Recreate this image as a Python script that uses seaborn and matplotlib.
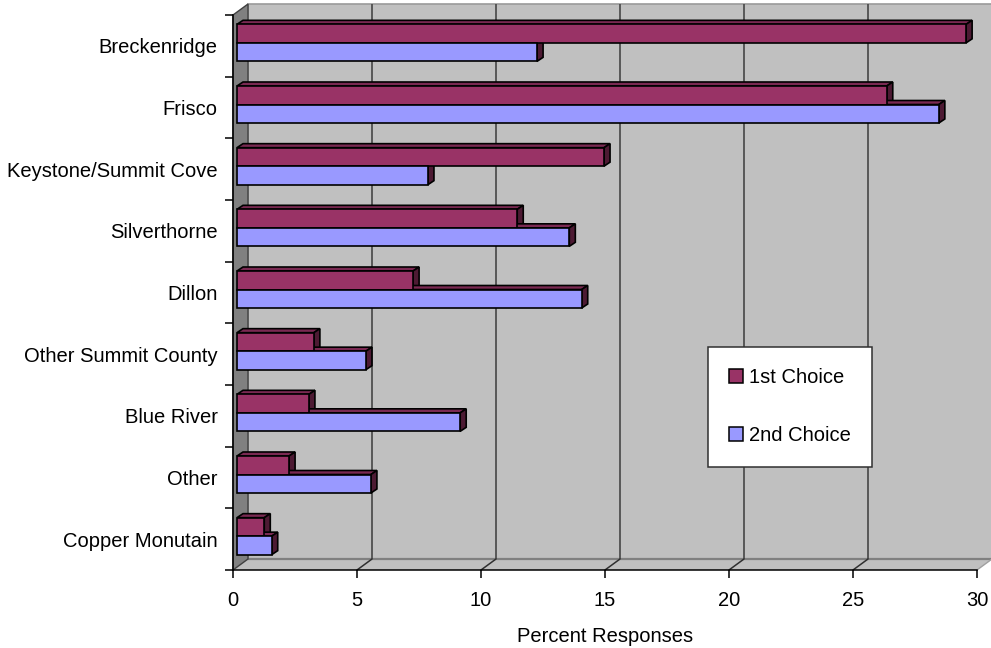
import matplotlib
matplotlib.use("Agg")
import matplotlib.pyplot as plt
import matplotlib.transforms as mtransforms
from matplotlib.patches import Polygon, Patch, Rectangle
from matplotlib.lines import Line2D
import pandas as pd
import seaborn as sns

# ---- data ----
locations = ["Breckenridge", "Frisco", "Keystone/Summit Cove", "Silverthorne", "Dillon",
             "Other Summit County", "Blue River", "Other", "Copper Monutain"]
first_choice = [29.4, 26.2, 14.8, 11.3, 7.1, 3.1, 2.9, 2.1, 1.1]
second_choice = [12.1, 28.3, 7.7, 13.4, 13.9, 5.2, 9.0, 5.4, 1.4]
series_names = ["1st Choice", "2nd Choice"]
x_ticks = [0, 5, 10, 15, 20, 25, 30]
x_label = "Percent Responses"

df = pd.DataFrame({
    "Location": locations * 2,
    "Choice": [series_names[0]] * len(locations) + [series_names[1]] * len(locations),
    "Percent": first_choice + second_choice,
})

sns.set_theme(style="white")
plt.rcParams["font.family"] = ["Liberation Sans", "DejaVu Sans"]
plt.rcParams["text.color"] = "black"

W, H, DPI = 991, 648, 100
FS = 14.5
fig = plt.figure(figsize=(W / DPI, H / DPI), dpi=DPI)
fig.patch.set_facecolor("white")

# front plane of the 3-D box, in pixels
left_px, right_px, bottom_px, top_px = 233, 977, 570, 15
ax = fig.add_axes([left_px / W, 1 - bottom_px / H,
                   (right_px - left_px) / W, (bottom_px - top_px) / H])
ax.set_facecolor("none")

front_cols = ["#993366", "#9999FF"]
top_cols = ["#7A2952", "#7B7BD6"]
side_cols = ["#4D1A33", "#4D4D80"]

sns.barplot(data=df, y="Location", x="Percent", hue="Choice",
            order=locations, hue_order=series_names, palette=front_cols,
            orient="h", width=0.6, saturation=1, edgecolor="black",
            linewidth=1.2, legend=False, ax=ax)
bars = list(ax.patches)

ax.set_xlim(x_ticks[0], x_ticks[-1])
ax.set_ylim(len(locations) - 0.5, -0.5)

# depth offsets (pixels): wall depth, bar position in depth, bar thickness
WALL_DX, WALL_DY = 15, 11
BAR_FX, BAR_FY = 4, 3
BAR_DX, BAR_DY = 6, 4

def shifted(dx, dy):
    return ax.transData + mtransforms.ScaledTranslation(dx / DPI, dy / DPI, fig.dpi_scale_trans)

ident = mtransforms.IdentityTransform()
to_disp = ax.transData.transform
back_tr = shifted(WALL_DX, WALL_DY)

y_lo, y_hi = len(locations) - 0.5, -0.5
x_lo, x_hi = x_ticks[0], x_ticks[-1]

# back wall
ax.add_patch(Rectangle((x_lo, y_hi), x_hi - x_lo, y_lo - y_hi, transform=back_tr,
                       facecolor="#C0C0C0", edgecolor="#9A9A9A", lw=1.2,
                       clip_on=False, zorder=0.2))
# floor
fl0, fl1 = to_disp((x_lo, y_lo)), to_disp((x_hi, y_lo))
floor = [fl0, fl1, fl1 + (WALL_DX, WALL_DY), fl0 + (WALL_DX, WALL_DY)]
ax.add_patch(Polygon(floor, closed=True, transform=ident, facecolor="#C0C0C0",
                     edgecolor="none", clip_on=False, zorder=0.3))
ax.add_line(Line2D([floor[3][0], floor[2][0]], [floor[3][1], floor[2][1]], transform=ident,
                   color="#808080", lw=1.6, clip_on=False, zorder=0.35))
ax.add_line(Line2D([floor[1][0], floor[2][0]], [floor[1][1], floor[2][1]], transform=ident,
                   color="#A0A0A0", lw=1.0, clip_on=False, zorder=0.35))
# left side wall
lw0, lw1 = to_disp((x_lo, y_lo)), to_disp((x_lo, y_hi))
lwall = [lw0, lw1, lw1 + (WALL_DX, WALL_DY), lw0 + (WALL_DX, WALL_DY)]
ax.add_patch(Polygon(lwall, closed=True, transform=ident, facecolor="#808080",
                     edgecolor="#404040", lw=1.0, clip_on=False, zorder=0.4))

# gridlines on the back wall and their traces across the floor
ax.vlines(x_ticks[1:], y_hi, y_lo, transform=back_tr, colors="#505050",
          lw=1.3, clip_on=False, zorder=0.5)
for xt in x_ticks[1:-1]:
    p0 = to_disp((xt, y_lo))
    ax.add_line(Line2D([p0[0], p0[0] + WALL_DX], [p0[1], p0[1] + WALL_DY], transform=ident,
                       color="#303030", lw=1.1, clip_on=False, zorder=0.5))

# give every bar a top and an end face
front_tr = shifted(BAR_FX, BAR_FY)
for p in bars:
    fc = p.get_facecolor()
    k = 0 if abs(fc[0] - 0.6) < 0.05 else 1
    x0, y0, w, h = p.get_x(), p.get_y(), p.get_width(), p.get_height()
    a, b = to_disp((x0, y0)), to_disp((x0 + w, y0 + h))
    left, right = min(a[0], b[0]) + BAR_FX, max(a[0], b[0]) + BAR_FX
    low, high = min(a[1], b[1]) + BAR_FY, max(a[1], b[1]) + BAR_FY
    top = [(left, high), (right, high), (right + BAR_DX, high + BAR_DY), (left + BAR_DX, high + BAR_DY)]
    side = [(right, low), (right, high), (right + BAR_DX, high + BAR_DY), (right + BAR_DX, low + BAR_DY)]
    base_z = 2 if k == 1 else 4
    ax.add_patch(Polygon(top, closed=True, transform=ident, facecolor=top_cols[k],
                         edgecolor="black", lw=1.2, clip_on=False, zorder=base_z))
    ax.add_patch(Polygon(side, closed=True, transform=ident, facecolor=side_cols[k],
                         edgecolor="black", lw=1.2, clip_on=False, zorder=base_z))
    p.set_transform(front_tr)
    p.set_clip_on(False)
    p.set_zorder(base_z + 0.5)

# axes, ticks and labels
for s in ["top", "right"]:
    ax.spines[s].set_visible(False)
for s in ["left", "bottom"]:
    ax.spines[s].set_color("black")
    ax.spines[s].set_linewidth(1.1)
    ax.spines[s].set_zorder(6)

ax.set_xticks(x_ticks)
ax.set_xticklabels([str(t) for t in x_ticks])
ax.tick_params(axis="x", which="major", direction="out", length=6, width=1.1,
               color="black", labelsize=FS, labelcolor="black", pad=9, bottom=True)
ax.set_yticks(range(len(locations)))
ax.set_yticklabels(locations)
ax.set_yticks([i - 0.5 for i in range(len(locations) + 1)], minor=True)
ax.tick_params(axis="y", which="major", length=0, labelsize=FS, labelcolor="black", pad=11)
ax.tick_params(axis="y", which="minor", direction="out", length=6, width=1.1,
               color="black", left=True)
ax.set_ylabel("")
ax.set_xlabel(x_label, fontsize=FS, color="black", labelpad=12)
ax.grid(False)

handles = [Patch(facecolor=front_cols[i], edgecolor="black", lw=1.1) for i in range(2)]
leg = ax.legend(handles, series_names, loc="upper left",
                bbox_to_anchor=(708 / W, 1 - 347 / H), bbox_transform=fig.transFigure,
                borderaxespad=0, fontsize=FS, frameon=True, fancybox=False,
                edgecolor="#303030", framealpha=1, handlelength=0.7, handleheight=0.7,
                handletextpad=0.3, labelspacing=1.95, borderpad=1.05)
leg.get_frame().set_linewidth(1.1)
leg.set_zorder(10)

fig.savefig("out.png", dpi=DPI)
